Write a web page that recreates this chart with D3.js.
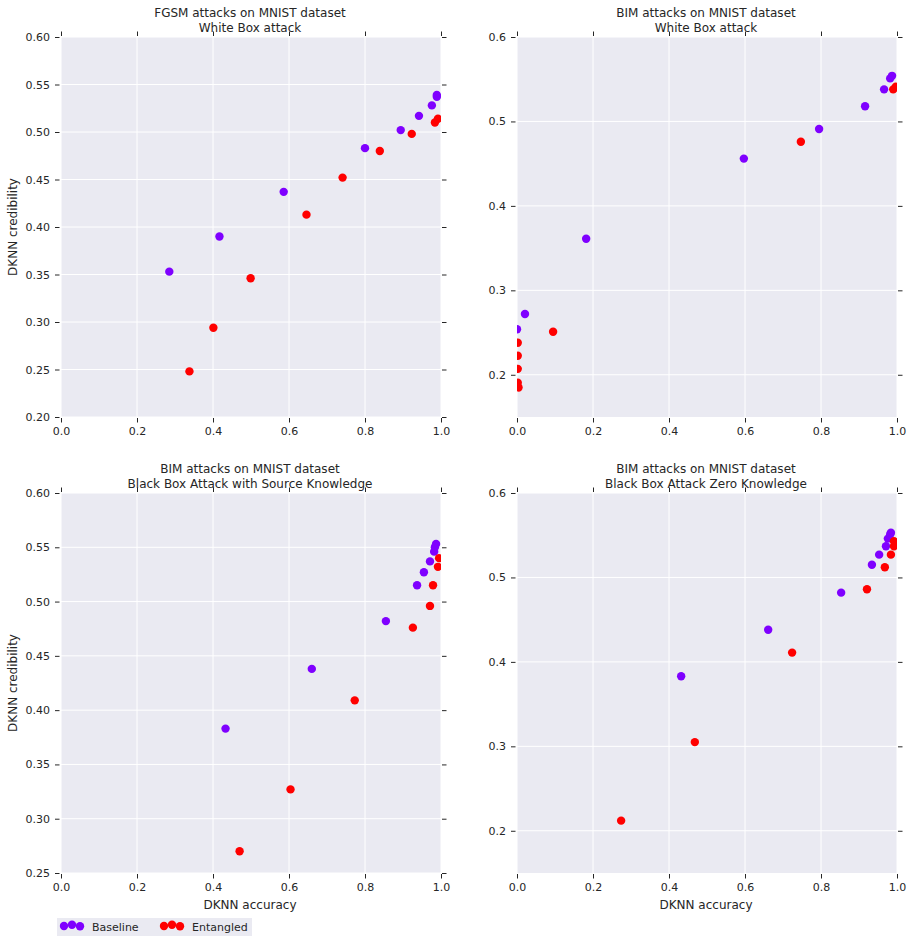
<!DOCTYPE html>
<html>
<head>
<meta charset="utf-8">
<script src="https://cdn.jsdelivr.net/npm/d3@7"></script>
<style>
  body { margin: 0; background: #fff; }
  text { font-family: "DejaVu Sans", sans-serif; fill: #262626; }
</style>
</head>
<body>
<svg width="912" height="943"></svg>
<script>
// values, [accuracy, credibility]
const fgsmWhiteBaseline = [[0.285,0.353],[0.417,0.390],[0.586,0.437],[0.800,0.483],[0.894,0.502],
                           [0.942,0.517],[0.976,0.528],[0.989,0.537],[0.989,0.539]];
const fgsmWhiteEntangled = [[0.338,0.248],[0.401,0.294],[0.499,0.346],[0.646,0.413],[0.741,0.452],
                            [0.839,0.480],[0.923,0.498],[0.984,0.510],[0.992,0.514]];

const bimWhiteBaseline = [[0.000,0.254],[0.021,0.272],[0.182,0.361],[0.597,0.456],[0.795,0.491],
                          [0.916,0.518],[0.966,0.538],[0.982,0.551],[0.987,0.554]];
const bimWhiteEntangled = [[0.002,0.238],[0.002,0.2225],[0.002,0.207],[0.002,0.1905],[0.004,0.185],
                           [0.095,0.251],[0.747,0.476],[0.990,0.538],[0.997,0.541]];

const bimSourceBaseline = [[0.433,0.383],[0.660,0.438],[0.855,0.482],[0.937,0.515],[0.955,0.527],
                           [0.971,0.537],[0.982,0.546],[0.984,0.550],[0.987,0.553]];
const bimSourceEntangled = [[0.470,0.270],[0.604,0.327],[0.773,0.409],[0.926,0.476],[0.971,0.496],
                            [0.979,0.515],[0.992,0.532],[0.995,0.540]];

const bimZeroBaseline = [[0.432,0.383],[0.661,0.438],[0.853,0.482],[0.934,0.515],[0.953,0.527],
                         [0.971,0.537],[0.976,0.546],[0.982,0.551],[0.984,0.553]];
const bimZeroEntangled = [[0.274,0.212],[0.468,0.305],[0.724,0.411],[0.921,0.486],[0.968,0.512],
                          [0.984,0.527],[0.992,0.537],[0.992,0.543]];

const xTicks = [0, 0.2, 0.4, 0.6, 0.8, 1.0];
const yTicksFine = [0.20, 0.25, 0.30, 0.35, 0.40, 0.45, 0.50, 0.55, 0.60];
const yTicksCoarse = [0.2, 0.3, 0.4, 0.5, 0.6];

const panels = [
  {title: ["FGSM attacks on MNIST dataset", "White Box attack"], left: 61, top: 37,
   yDomain: [0.2, 0.6], yTicks: yTicksFine, yFmt: ".2f", ylabel: true, xlabel: false,
   baseline: fgsmWhiteBaseline, entangled: fgsmWhiteEntangled},
  {title: ["BIM attacks on MNIST dataset", "White Box attack"], left: 517, top: 37,
   yDomain: [0.15, 0.6], yTicks: yTicksCoarse, yFmt: ".1f", ylabel: false, xlabel: false,
   baseline: bimWhiteBaseline, entangled: bimWhiteEntangled},
  {title: ["BIM attacks on MNIST dataset", "Black Box Attack with Source Knowledge"], left: 61, top: 493,
   yDomain: [0.25, 0.6], yTicks: yTicksFine.filter(d => d >= 0.25), yFmt: ".2f", ylabel: true, xlabel: true,
   baseline: bimSourceBaseline, entangled: bimSourceEntangled},
  {title: ["BIM attacks on MNIST dataset", "Black Box Attack Zero Knowledge"], left: 517, top: 493,
   yDomain: [0.15, 0.6], yTicks: yTicksCoarse, yFmt: ".1f", ylabel: false, xlabel: true,
   baseline: bimZeroBaseline, entangled: bimZeroEntangled}
];

const colors = {baseline: "#7f00ff", entangled: "#ff0000"};
const bg = "#eaeaf2";
const pw = 380, ph = 380, tickLen = 4.5;

const svg = d3.select("svg");

panels.forEach((p, i) => {
  const g = svg.append("g").attr("transform", `translate(${p.left},${p.top})`);
  const x = d3.scaleLinear().domain([0, 1]).range([0, pw]);
  const y = d3.scaleLinear().domain(p.yDomain).range([ph, 0]);

  g.append("rect").attr("width", pw).attr("height", ph).attr("fill", bg);

  // grid
  g.selectAll(".gx").data(xTicks).enter().append("line")
    .attr("x1", d => x(d)).attr("x2", d => x(d)).attr("y1", 0).attr("y2", ph)
    .attr("stroke", "#fff").attr("stroke-width", 1);
  g.selectAll(".gy").data(p.yTicks).enter().append("line")
    .attr("y1", d => y(d)).attr("y2", d => y(d)).attr("x1", 0).attr("x2", pw)
    .attr("stroke", "#fff").attr("stroke-width", 1);

  // axes: ticks on all four sides, labels on left and bottom
  const styleAxis = sel => {
    sel.select(".domain").remove();
    sel.selectAll(".tick line").attr("stroke", "#262626").attr("stroke-width", 1);
    sel.selectAll(".tick text").style("font-family", "DejaVu Sans, sans-serif")
      .style("font-size", "11px").attr("fill", "#262626");
  };
  g.append("g").attr("transform", `translate(0,${ph + 1})`)
    .call(d3.axisBottom(x).tickValues(xTicks).tickFormat(d3.format(".1f")).tickSize(tickLen).tickPadding(4.5))
    .call(styleAxis);
  g.append("g").attr("transform", `translate(0,-1)`)
    .call(d3.axisTop(x).tickValues(xTicks).tickFormat("").tickSize(tickLen))
    .call(styleAxis);
  g.append("g").attr("transform", `translate(-1.5,0)`)
    .call(d3.axisLeft(y).tickValues(p.yTicks).tickFormat(d3.format(p.yFmt)).tickSize(tickLen).tickPadding(5))
    .call(styleAxis);
  g.append("g").attr("transform", `translate(${pw + 1},0)`)
    .call(d3.axisRight(y).tickValues(p.yTicks).tickFormat("").tickSize(tickLen))
    .call(styleAxis);

  // points, clipped to the axes box
  g.append("clipPath").attr("id", "clip" + i)
    .append("rect").attr("width", pw).attr("height", ph);
  const pts = g.append("g").attr("clip-path", `url(#clip${i})`);
  pts.selectAll(".b").data(p.baseline).enter().append("circle")
    .attr("cx", d => x(d[0])).attr("cy", d => y(d[1])).attr("r", 4.2)
    .attr("fill", colors.baseline);
  pts.selectAll(".e").data(p.entangled).enter().append("circle")
    .attr("cx", d => x(d[0])).attr("cy", d => y(d[1])).attr("r", 4.2)
    .attr("fill", colors.entangled);

  // title
  g.append("text").attr("x", pw / 2 - 1).attr("y", -20).attr("text-anchor", "middle")
    .style("font-size", "12px").text(p.title[0]);
  g.append("text").attr("x", pw / 2 - 1).attr("y", -5).attr("text-anchor", "middle")
    .style("font-size", "12px").text(p.title[1]);

  if (p.ylabel) {
    g.append("text").attr("transform", `translate(-44,${ph / 2}) rotate(-90)`)
      .attr("text-anchor", "middle").style("font-size", "12px").text("DKNN credibility");
  }
  if (p.xlabel) {
    g.append("text").attr("x", pw / 2 - 1).attr("y", ph + 36).attr("text-anchor", "middle")
      .style("font-size", "12px").text("DKNN accuracy");
  }
});

// legend
const legend = svg.append("g").attr("transform", "translate(57,918)");
legend.append("rect").attr("width", 195).attr("height", 18).attr("fill", bg);
const legendItems = [
  {label: "Baseline", color: colors.baseline, x: 7},
  {label: "Entangled", color: colors.entangled, x: 107}
];
const dotOffsets = [[0, 8], [8, 6.8], [16, 8.3]];
legendItems.forEach(it => {
  dotOffsets.forEach(o => {
    legend.append("circle").attr("cx", it.x + o[0]).attr("cy", o[1]).attr("r", 4.2).attr("fill", it.color);
  });
  legend.append("text").attr("x", it.x + 28).attr("y", 12.5).style("font-size", "11px").text(it.label);
});
</script>
</body>
</html>
